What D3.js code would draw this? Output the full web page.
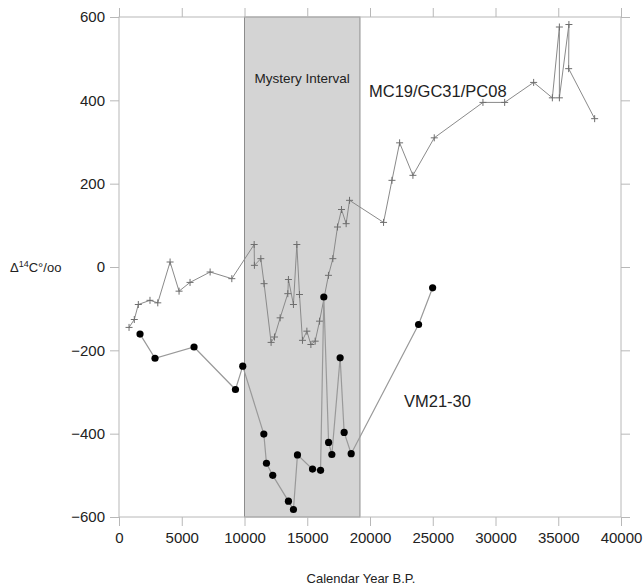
<!DOCTYPE html>
<html>
<head>
<meta charset="utf-8">
<script src="https://cdn.jsdelivr.net/npm/d3@7"></script>
<style>
  body { margin: 0; background: #fff; }
  text { font-family: "Liberation Sans", Arial, sans-serif; fill: #222; }
</style>
</head>
<body>
<svg id="chart" width="644" height="586"></svg>
<script>
// MC19/GC31/PC08 (crosses), calendar year B.P. vs delta14C
var mcYears = [800, 1220, 1540, 2470, 3090, 4070, 4785, 5660, 7260, 8990, 10770, 10790, 11300, 11560,
  12120, 12390, 12840, 13450, 13500, 13900, 14170, 14380, 14620, 14970, 15290, 15630, 15980,
  16690, 17040, 17410, 17730, 18100, 18370, 21080, 21750, 22360, 23420, 25120, 29000, 30730,
  33040, 34530, 35090, 35090, 35850, 35830, 37900];
var mcDelta = [-145, -126, -90, -80, -86, 12, -58, -37, -12, -28, 54, 4, 20, -40,
  -181, -168, -122, -64, -30, -90, 54, -66, -176, -154, -186, -178, -130,
  -20, 20, 96, 138, 104, 160, 107, 208, 298, 220, 310, 395, 395,
  443, 406, 576, 406, 582, 476, 356];

// VM21-30 (dots)
var vmYears = [1675, 2870, 5980, 9280, 9860, 11540, 11750, 12250, 13500, 13900, 14220, 15420,
  16060, 16320, 16700, 16960, 17620, 17940, 18500, 23870, 24990];
var vmDelta = [-161, -219, -192, -294, -238, -401, -471, -500, -562, -582, -451, -485,
  -488, -72, -421, -450, -218, -397, -448, -138, -50];

var mysteryInterval = [10000, 19200];
var xTicks = [0, 5000, 10000, 15000, 20000, 25000, 30000, 35000, 40000];
var yTicks = [-600, -400, -200, 0, 200, 400, 600];

var svg = d3.select("#chart");
var x = d3.scaleLinear().domain([0, 40000]).range([119, 621]);
var y = d3.scaleLinear().domain([-600, 600]).range([517, 17]);
var boxColor = "#b8b8b8";

// shaded interval
svg.append("rect")
  .attr("x", x(mysteryInterval[0]))
  .attr("y", y(600))
  .attr("width", x(mysteryInterval[1]) - x(mysteryInterval[0]))
  .attr("height", y(-600) - y(600))
  .attr("fill", "#d4d4d4")
  .attr("stroke", "#8c8c8c")
  .attr("stroke-width", 1);

svg.append("text")
  .attr("x", (x(mysteryInterval[0]) + x(mysteryInterval[1])) / 2)
  .attr("y", 83)
  .attr("text-anchor", "middle")
  .style("font-size", "13.5px")
  .text("Mystery Interval");

// frame with outward ticks on all four sides
svg.append("rect")
  .attr("x", x(0)).attr("y", y(600))
  .attr("width", x(40000) - x(0)).attr("height", y(-600) - y(600))
  .attr("fill", "none").attr("stroke", boxColor);

function styleAxis(g) {
  g.select(".domain").remove();
  g.selectAll(".tick line").attr("stroke", boxColor);
}

svg.append("g").attr("transform", "translate(0," + y(-600) + ")")
  .call(d3.axisBottom(x).tickValues(xTicks).tickSize(9).tickPadding(6).tickFormat(d3.format("d")))
  .call(styleAxis)
  .selectAll("text").style("font-size", "15px").style("font-family", "Liberation Sans, Arial, sans-serif").attr("fill", "#222");
svg.append("g").attr("transform", "translate(0," + y(600) + ")")
  .call(d3.axisTop(x).tickValues(xTicks).tickSize(9).tickFormat(""))
  .call(styleAxis);
svg.append("g").attr("transform", "translate(" + x(0) + ",0)")
  .call(d3.axisLeft(y).tickValues(yTicks).tickSize(9).tickPadding(5).tickFormat(d3.format("d")))
  .call(styleAxis)
  .selectAll("text").style("font-size", "15px").style("font-family", "Liberation Sans, Arial, sans-serif").attr("fill", "#222");
svg.append("g").attr("transform", "translate(" + x(40000) + ",0)")
  .call(d3.axisRight(y).tickValues(yTicks).tickSize(9).tickFormat(""))
  .call(styleAxis);

// MC19 line + crosses
var mcData = mcYears.map(function(d, i) { return {x: d, y: mcDelta[i]}; });
var line = d3.line().x(function(d) { return x(d.x); }).y(function(d) { return y(d.y); });

svg.append("path").datum(mcData)
  .attr("d", line).attr("fill", "none").attr("stroke", "#8a8a8a").attr("stroke-width", 1);
svg.append("g").selectAll("path").data(mcData).enter().append("path")
  .attr("d", function(d) {
    var cx = x(d.x), cy = y(d.y), s = 3.5;
    return "M" + (cx - s) + "," + cy + "H" + (cx + s) + "M" + cx + "," + (cy - s) + "V" + (cy + s);
  })
  .attr("stroke", "#6e6e6e").attr("stroke-width", 1);

// VM21-30 line + dots
var vmData = vmYears.map(function(d, i) { return {x: d, y: vmDelta[i]}; });
svg.append("path").datum(vmData)
  .attr("d", line).attr("fill", "none").attr("stroke", "#999").attr("stroke-width", 1.2);
svg.append("g").selectAll("circle").data(vmData).enter().append("circle")
  .attr("cx", function(d) { return x(d.x); })
  .attr("cy", function(d) { return y(d.y); })
  .attr("r", 3.6).attr("fill", "#000");

// series labels
svg.append("text").attr("x", 369).attr("y", 97).style("font-size", "16.5px").text("MC19/GC31/PC08");
svg.append("text").attr("x", 404).attr("y", 407).style("font-size", "16.5px").text("VM21-30");

// axis titles
var yt = svg.append("text").attr("x", 10).attr("y", 272).style("font-size", "13px");
yt.append("tspan").text("\u0394");
yt.append("tspan").attr("dy", -5).style("font-size", "9px").text("14");
yt.append("tspan").attr("dy", 5).text("C\u00b0/oo");

svg.append("text").attr("x", 361).attr("y", 583).attr("text-anchor", "middle")
  .style("font-size", "13px").text("Calendar Year B.P.");
</script>
</body>
</html>
